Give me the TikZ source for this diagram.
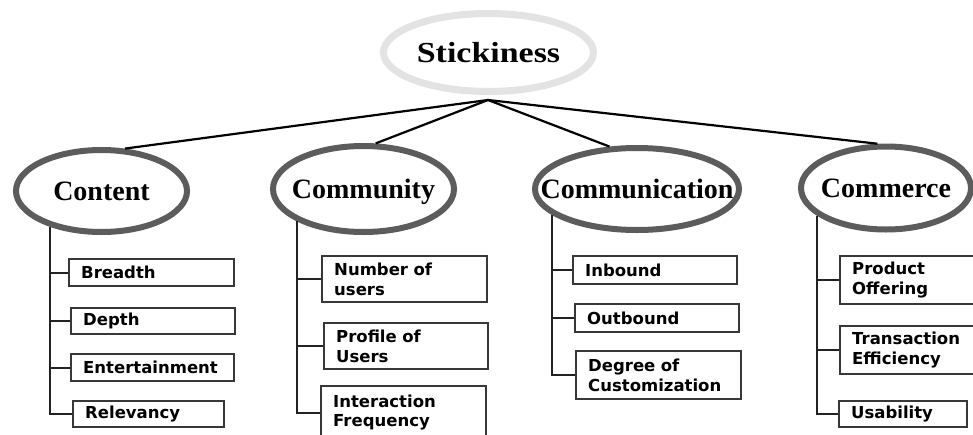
\documentclass[tikz,border=0pt]{standalone}
\usepackage{fontspec}
\usepackage{graphicx}
\setmainfont{Liberation Serif}
\newfontfamily\boxfont{DejaVu Sans}
\usetikzlibrary{shapes.geometric}
\definecolor{catgray}{HTML}{5C5C5C}
\definecolor{topgray}{HTML}{E3E3E3}
\definecolor{boxgray}{HTML}{383838}
\definecolor{trunkgray}{HTML}{222222}
\newcommand\leafbox[6]{%
  \pgfmathsetmacro\lbw{#4-2}\pgfmathsetmacro\lbt{#4-26}\pgfmathsetmacro\lbh{#5-2}%
  \node[box, anchor=north west, minimum width=\lbw pt, minimum height=\lbh pt, text width=\lbt pt] (#1) at (#2,#3) {#6};}
\begin{document}
\begin{tikzpicture}[x=1pt,y=-1pt,
  cat/.style={ellipse, draw=catgray, line width=6pt, fill=white, inner sep=0pt,
    text height=18pt, text depth=0pt,
    font=\fontsize{28}{32}\selectfont\bfseries},
  topnode/.style={ellipse, draw=topgray, line width=7pt, fill=white, inner sep=0pt,
    text height=19pt, text depth=0pt,
    font=\fontsize{29}{32}\selectfont\bfseries},
  box/.style={rectangle, draw=boxgray, line width=2.4pt, fill=white, inner xsep=12pt,
    inner ysep=0pt, align=left, font=\boxfont\bfseries\fontsize{16.5}{19.5}\selectfont},
  link/.style={line width=2.2pt, draw=black},
  trunk/.style={line width=1.6pt, draw=trunkgray}]
\clip (0,0) rectangle (973,434);
\fill[white] (0,0) rectangle (973,434);

\node[topnode, minimum width=210pt, minimum height=78pt] (stick) at (488.5,52.5)
  {\makebox[0pt]{\scalebox{1.17}[1]{Stickiness}}};
\coordinate (apex) at (488,100);

\node[cat, minimum width=171pt, minimum height=82pt] (content) at (101.5,191) {\makebox[0pt]{Content}};
\node[cat, minimum width=181pt, minimum height=86pt] (community) at (363.5,189) {\makebox[0pt]{Community}};
\node[cat, minimum width=204pt, minimum height=82pt] (communication) at (637,189) {\makebox[0pt]{Communication}};
\node[cat, minimum width=170pt, minimum height=83pt] (commerce) at (886,188) {\makebox[0pt]{Commerce}};

\draw[link] (apex) -- (content.61);
\draw[link] (apex) -- (community.75);
\draw[link] (apex) -- (communication.123);
\draw[link] (apex) -- (commerce.101);

\leafbox{breadth}{68}{258}{167}{29}{Breadth}
\leafbox{depth}{70}{307}{166}{28}{Depth}
\leafbox{entertainment}{70}{353}{165}{29}{Entertainment}
\leafbox{relevancy}{72}{400}{153}{28}{Relevancy}

\leafbox{numusers}{321}{255}{167}{48}{Number of\\users}
\leafbox{profile}{323}{322}{166}{48}{Profile of\\Users}
\leafbox{interaction}{320}{385}{167}{55}{Interaction\\Frequency}

\leafbox{inbound}{572}{255}{166}{30}{Inbound}
\leafbox{outbound}{574}{303}{166}{30}{Outbound}
\leafbox{degree}{575}{350}{167}{50}{Degree of\\Customization}

\leafbox{product}{839}{255}{150}{50}{Product\\Offering}
\leafbox{transaction}{839}{325}{150}{50}{Transaction\\Efficiency}
\leafbox{usability}{838}{400}{130}{28}{Usability}

\draw[trunk] (content.215) |- (relevancy.west);
\draw[trunk] (content.215 |- breadth.west) -- (breadth.west);
\draw[trunk] (content.215 |- depth.west) -- (depth.west);
\draw[trunk] (content.215 |- entertainment.west) -- (entertainment.west);

\draw[trunk] (community.206) |- (interaction.west);
\draw[trunk] (community.206 |- numusers.west) -- (numusers.west);
\draw[trunk] (community.206 |- profile.west) -- (profile.west);

\draw[trunk] (communication.197) |- (degree.west);
\draw[trunk] (communication.197 |- inbound.west) -- (inbound.west);
\draw[trunk] (communication.197 |- outbound.west) -- (outbound.west);

\draw[trunk] (commerce.202) |- (usability.west);
\draw[trunk] (commerce.202 |- product.west) -- (product.west);
\draw[trunk] (commerce.202 |- transaction.west) -- (transaction.west);
\end{tikzpicture}
\end{document}
